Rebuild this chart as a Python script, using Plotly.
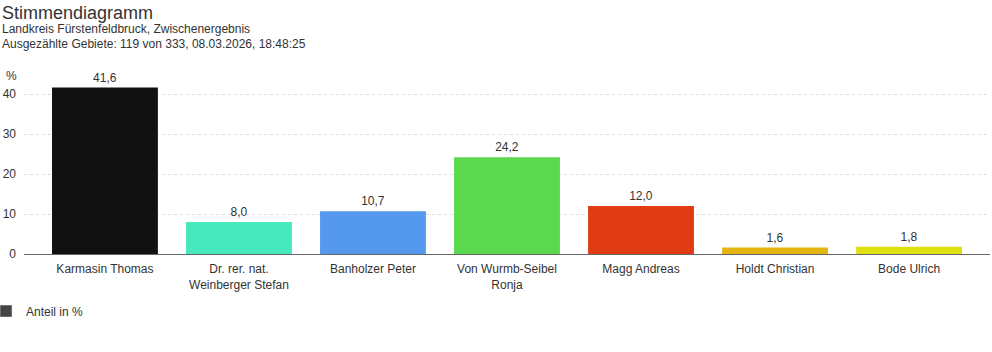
import plotly.graph_objects as go

categories = ["Karmasin Thomas", "Dr. rer. nat.<br>Weinberger Stefan", "Banholzer Peter",
              "Von Wurmb-Seibel<br>Ronja", "Magg Andreas", "Holdt Christian", "Bode Ulrich"]
values = [41.6, 8.0, 10.7, 24.2, 12.0, 1.6, 1.8]
colors = ["#111111", "#46E8BE", "#5599EE", "#5CD84E", "#E03C14", "#E3B50E", "#DFE012"]
value_labels = [f"{v:.1f}".replace(".", ",") for v in values]
tick_vals = [0, 10, 20, 30, 40]

FONT = "Liberation Sans, Arial, sans-serif"
PW = 966
PH = 184

fig = go.Figure()
fig.add_trace(go.Bar(
    x=categories, y=values, marker=dict(color=colors, line=dict(width=0)),
    text=value_labels, textposition="outside", cliponaxis=False,
    textfont=dict(size=12, color="#333333", family=FONT),
    showlegend=False, hoverinfo="skip",
))
fig.add_trace(go.Bar(
    x=[categories[0]], y=[None], name="Anteil in %",
    marker=dict(color="#444444"), showlegend=True, hoverinfo="skip",
))

fig.update_layout(
    width=992, height=352,
    margin=dict(l=24, r=2, t=70, b=98, autoexpand=False),
    paper_bgcolor="white", plot_bgcolor="white",
    font=dict(family=FONT, size=12, color="#333333"),
    bargap=0.21, barmode="overlay",
    xaxis=dict(
        range=[-0.604, 6.604], showgrid=False, showline=True, linecolor="#666666",
        linewidth=1, ticks="", tickfont=dict(size=12, color="#333333"),
        ticklabelstandoff=4, fixedrange=True, automargin=False,
    ),
    yaxis=dict(
        range=[0, 46], tickvals=tick_vals, ticktext=[str(t) for t in tick_vals],
        showgrid=True, gridcolor="#dddddd", griddash="dot", gridwidth=1,
        zeroline=False, showline=False, ticks="", ticklabelstandoff=7,
        tickfont=dict(size=12, color="#333333"), fixedrange=True, automargin=False,
    ),
    legend=dict(
        orientation="h", x=-38/PW, xanchor="left", y=-0.31, yanchor="middle",
        font=dict(size=12, color="#333333"), bgcolor="rgba(0,0,0,0)",
    ),
    showlegend=True,
)

fig.add_annotation(text="Stimmendiagramm", xref="paper", yref="paper",
                   x=-24/PW, y=1 + (70 - 13)/PH, xanchor="left", yanchor="middle",
                   showarrow=False, font=dict(size=18, color="#333333", family=FONT))
fig.add_annotation(text="Landkreis Fürstenfeldbruck, Zwischenergebnis", xref="paper", yref="paper",
                   x=-24/PW, y=1 + (70 - 29)/PH, xanchor="left", yanchor="middle",
                   showarrow=False, font=dict(size=12, color="#333333", family=FONT))
fig.add_annotation(text="Ausgezählte Gebiete: 119 von 333, 08.03.2026, 18:48:25", xref="paper", yref="paper",
                   x=-24/PW, y=1 + (70 - 44)/PH, xanchor="left", yanchor="middle",
                   showarrow=False, font=dict(size=12, color="#333333", family=FONT))
fig.add_annotation(text="%", xref="paper", yref="paper",
                   x=-20/PW, y=1 + (70 - 76)/PH, xanchor="left", yanchor="middle",
                   showarrow=False, font=dict(size=12, color="#333333", family=FONT))

fig.write_html("out.html")
